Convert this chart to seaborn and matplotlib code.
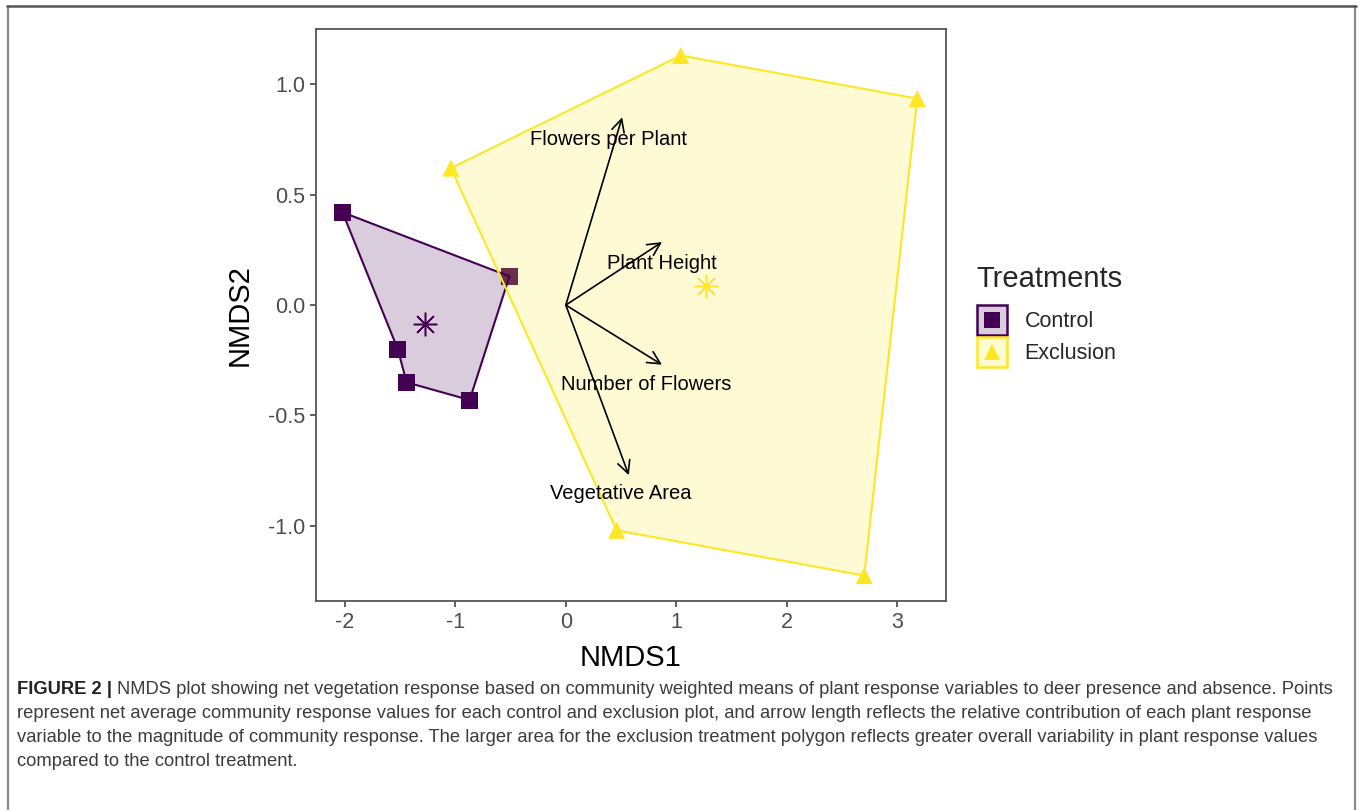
import numpy as np
import pandas as pd
import matplotlib
matplotlib.use("Agg")
import matplotlib.pyplot as plt
from matplotlib.lines import Line2D
from matplotlib.patches import Patch, Rectangle
import seaborn as sns

# --- NMDS site scores -------------------------------------------------------
ctrl_x = [-2.02, -0.51, -1.52, -1.44, -0.87]
ctrl_y = [0.42, 0.13, -0.20, -0.35, -0.43]
excl_x = [-1.04, 1.04, 3.18, 2.70, 0.46]
excl_y = [0.62, 1.13, 0.935, -1.225, -1.02]

# --- fitted plant response vectors ------------------------------------------
var_names = ["Flowers per Plant", "Plant Height", "Number of Flowers", "Vegetative Area"]
vec_x = [0.51, 0.87, 0.87, 0.57]
vec_y = [0.85, 0.285, -0.27, -0.77]
lab_x = [0.39, 0.87, 0.73, 0.50]
lab_y = [0.75, 0.19, -0.36, -0.855]

treatments = ["Control", "Exclusion"]
colors = {"Control": "#440154", "Exclusion": "#FDE725"}
markers = {"Control": "s", "Exclusion": "^"}

x_ticks = [-2, -1, 0, 1, 2, 3]
y_ticks = [-1.0, -0.5, 0.0, 0.5, 1.0]

caption_head = "FIGURE 2 |"
caption_lines = [
    "NMDS plot showing net vegetation response based on community weighted means of plant response variables to deer presence and absence. Points",
    "represent net average community response values for each control and exclusion plot, and arrow length reflects the relative contribution of each plant response",
    "variable to the magnitude of community response. The larger area for the exclusion treatment polygon reflects greater overall variability in plant response values",
    "compared to the control treatment.",
]

df = pd.DataFrame({
    "NMDS1": ctrl_x + excl_x,
    "NMDS2": ctrl_y + excl_y,
    "Treatment": ["Control"] * len(ctrl_x) + ["Exclusion"] * len(excl_x),
})

sns.set_theme(style="white")
plt.rcParams["font.family"] = ["Liberation Sans", "DejaVu Sans"]

W, H = 1360, 810
fig = plt.figure(figsize=(W / 100, H / 100), dpi=100)
fig.patch.set_facecolor("white")
ax = fig.add_axes([316 / W, 1 - 601 / H, (946 - 316) / W, (601 - 29) / H])

# points
sns.scatterplot(data=df, x="NMDS1", y="NMDS2", hue="Treatment", style="Treatment",
                palette=colors, markers=markers, s=150, linewidth=0,
                legend=False, ax=ax, zorder=2)


def hull_order(xs, ys):
    xs, ys = np.asarray(xs), np.asarray(ys)
    ang = np.arctan2(ys - ys.mean(), xs - xs.mean())
    idx = np.argsort(-ang)
    return xs[idx], ys[idx]


# treatment hulls and centroids
for t in treatments:
    sub = df[df["Treatment"] == t]
    hx, hy = hull_order(sub["NMDS1"], sub["NMDS2"])
    ax.fill(hx, hy, facecolor=colors[t], alpha=0.2, edgecolor="none", zorder=3)
    ax.fill(hx, hy, facecolor="none", edgecolor=colors[t], linewidth=1.5, zorder=3.5)
    ax.plot(sub["NMDS1"].mean(), sub["NMDS2"].mean(), marker=(8, 2, 0),
            markersize=17, markeredgewidth=1.1, color=colors[t], linestyle="none", zorder=4)

# response vectors
for name, vx, vy, lx, ly in zip(var_names, vec_x, vec_y, lab_x, lab_y):
    ax.annotate("", xy=(vx, vy), xytext=(0, 0),
                arrowprops=dict(arrowstyle="->,head_length=0.75,head_width=0.38",
                                color="black", lw=1.2, shrinkA=0, shrinkB=0),
                zorder=5)
    ax.text(lx, ly, name, ha="center", va="center", fontsize=14.5, color="black", zorder=6)

ax.set_xlim(-2.26, 3.44)
ax.set_ylim(-1.34, 1.25)
ax.set_xticks(x_ticks)
ax.set_xticklabels([f"{v:g}" for v in x_ticks])
ax.set_yticks(y_ticks)
ax.set_yticklabels([f"{v:.1f}" for v in y_ticks])
ax.tick_params(axis="both", which="major", length=4, width=1.1, color="#333333",
               labelsize=15.5, labelcolor="#4D4D4D", pad=4, bottom=True, left=True)
for sp in ax.spines.values():
    sp.set_color("#555555")
    sp.set_linewidth(1.3)
ax.set_xlabel("NMDS1", fontsize=21, color="black", labelpad=8)
ax.set_ylabel("NMDS2", fontsize=21, color="black", labelpad=10)
ax.grid(False)


class HullKeyHandler:
    """Legend key: a square hull swatch with the treatment marker on top."""

    def __init__(self, side):
        self.side = side

    def legend_artist(self, legend, orig_handle, fontsize, handlebox):
        patch, mk = orig_handle
        xd, yd = handlebox.xdescent, handlebox.ydescent
        w, h = handlebox.width, handlebox.height
        cx, cy = -xd + w / 2, -yd + h / 2
        s = self.side
        rect = Rectangle((cx - s / 2, cy - s / 2), s, s,
                         facecolor=patch.get_facecolor(), edgecolor=patch.get_edgecolor(),
                         linewidth=patch.get_linewidth(), transform=handlebox.get_transform())
        dot = Line2D([cx], [cy], marker=mk.get_marker(), color=mk.get_color(),
                     markersize=mk.get_markersize(), markeredgewidth=0, linestyle="none",
                     transform=handlebox.get_transform())
        handlebox.add_artist(rect)
        handlebox.add_artist(dot)
        return rect


# legend with hull-styled keys
handles = []
for t in treatments:
    box = Patch(facecolor=matplotlib.colors.to_rgba(colors[t], 0.2), edgecolor=colors[t], linewidth=1.8)
    mk = Line2D([], [], marker=markers[t], color=colors[t], linestyle="none", markersize=11,
                markeredgewidth=0)
    handles.append((box, mk))
leg = fig.legend(handles, treatments, handler_map={tuple: HullKeyHandler(21.5)},
                 loc="upper left", bbox_to_anchor=(976 / W, 1 - 265 / H),
                 frameon=False, title="Treatments", title_fontsize=21, fontsize=15.5,
                 handlelength=1.45, handleheight=1.45, labelspacing=0.3, handletextpad=0.8,
                 borderpad=0, borderaxespad=0)
leg._legend_box.align = "left"
leg._legend_box.sep = 10

# caption
cap_color = "#3C3C3C"
cap_family = ["Liberation Sans Narrow", "Liberation Sans", "DejaVu Sans"]
cap_size = 13.2
x0 = 17 / W
y0 = 689
head = fig.text(x0, 1 - y0 / H, caption_head, fontsize=cap_size, fontweight="bold",
                color="#222222", family=cap_family, va="center", ha="left")
fig.canvas.draw()
bb = head.get_window_extent(renderer=fig.canvas.get_renderer())
fig.text(bb.x1 / W + 5 / W, 1 - y0 / H, caption_lines[0], fontsize=cap_size, color=cap_color,
         family=cap_family, va="center", ha="left")
for i, line in enumerate(caption_lines[1:], start=1):
    fig.text(x0, 1 - (y0 + 24 * i) / H, line, fontsize=cap_size, color=cap_color,
             family=cap_family, va="center", ha="left")

# outer frame
fig.add_artist(Line2D([7.5 / W, 7.5 / W], [0, 1 - 6 / H], color="#8A8A8A", lw=1.6,
                      transform=fig.transFigure))
fig.add_artist(Line2D([1355 / W, 1355 / W], [0, 1 - 6 / H], color="#8A8A8A", lw=1.6,
                      transform=fig.transFigure))
fig.add_artist(Line2D([7 / W, 1356 / W], [1 - 6 / H, 1 - 6 / H], color="#555555", lw=1.8,
                      transform=fig.transFigure))

fig.savefig("out.png", dpi=100, facecolor="white")
